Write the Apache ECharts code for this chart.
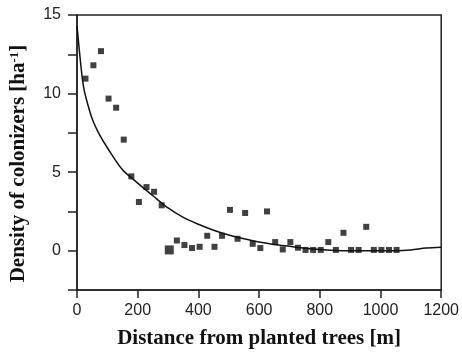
<!DOCTYPE html>
<html>
<head>
<meta charset="utf-8">
<script src="https://cdn.jsdelivr.net/npm/echarts@6/dist/echarts.min.js"></script>
<style>html,body{margin:0;padding:0;background:#fff}#c{width:462px;height:354px}</style>
</head>
<body>
<div id="c"></div>
<script>
// Observed points
const dist = [28,54,79,104,129,154,179,204,229,254,279,329,354,379,404,429,453,478,504,529,554,579,604,626,653,678,703,728,753,778,803,828,853,878,903,928,953,978,1003,1028,1053];
const dens = [10.95,11.8,12.7,9.68,9.1,7.07,4.73,3.1,4.05,3.75,2.89,0.65,0.36,0.17,0.25,0.95,0.25,0.95,2.6,0.76,2.4,0.44,0.17,2.5,0.55,0.08,0.55,0.19,0.05,0.05,0.05,0.55,0.05,1.14,0.05,0.05,1.52,0.05,0.05,0.05,0.05];
// Overlapping (larger) marker
const bigDist = [304];
const bigDens = [0.05];
// Fitted curve
const curveX = [0,5,10,20,30,50,75,100,150,200,250,300,350,400,450,500,550,600,650,700,750,800,850,900,950,1000,1050,1100,1150,1200];
const curveY = [14.3,13.3,12.3,10.6,9.7,8.4,7.35,6.55,5.15,4.3,3.5,2.72,2.12,1.68,1.3,1.0,0.76,0.55,0.4,0.28,0.16,0.07,0.02,0,0,0,0,0.05,0.17,0.22];
// Axis ticks
const xTicks = [0,200,400,600,800,1000,1200];
const yLabels = [0,5,10,15];

const chart = echarts.init(document.getElementById('c'));
const axisCol = '#222';
chart.setOption({
  animation: false,
  grid: {left: 77, right: 16, top: 15, bottom: 62, show: true, borderColor: axisCol, borderWidth: 1.5},
  xAxis: {
    type: 'value', min: xTicks[0], max: xTicks[xTicks.length-1], interval: xTicks[1]-xTicks[0],
    name: 'Distance from planted trees [m]', nameLocation: 'middle', nameGap: 38,
    nameTextStyle: {fontFamily: 'Liberation Serif', fontWeight: 'bold', fontSize: 21, color: '#111'},
    axisLine: {onZero: false, lineStyle: {color: axisCol, width: 1.5}},
    axisTick: {show: true, inside: false, length: 8, lineStyle: {color: axisCol, width: 1.5}},
    axisLabel: {fontFamily: 'Liberation Sans', fontSize: 16, color: '#222', margin: 13,
      formatter: v => String(v)},
    splitLine: {show: false}
  },
  yAxis: {
    type: 'value', min: -2.5, max: 15, interval: 2.5,
    name: 'Density of colonizers [ha{sup|-1}]', nameLocation: 'middle', nameGap: 48,
    nameTextStyle: {fontFamily: 'Liberation Serif', fontWeight: 'bold', fontSize: 21, color: '#111', padding: [0, 22, 0, 0],
      rich: {sup: {fontFamily: 'Liberation Serif', fontSize: 13, verticalAlign: 'top', color: '#111', padding: [0,0,8,0]}}},
    axisLine: {show: true, onZero: false, lineStyle: {color: axisCol, width: 1.5}},
    axisTick: {show: true, inside: false, length: 9, lineStyle: {color: axisCol, width: 1.5}},
    axisLabel: {fontFamily: 'Liberation Sans', fontSize: 16, color: '#222', margin: 16,
      formatter: v => yLabels.indexOf(v) >= 0 ? String(v) : ''},
    splitLine: {show: false}
  },
  series: [
    {type: 'line', data: curveX.map((x,i)=>[x, curveY[i]]), showSymbol: false, smooth: 0.3,
     lineStyle: {color: '#111', width: 1.5}, z: 2},
    {type: 'scatter', data: dist.map((x,i)=>[x, dens[i]]), symbol: 'rect', symbolSize: 6,
     itemStyle: {color: '#111'}, z: 3},
    {type: 'scatter', data: bigDist.map((x,i)=>[x, bigDens[i]]), symbol: 'rect', symbolSize: 9,
     itemStyle: {color: '#111'}, z: 3}
  ]
});
</script>
</body>
</html>
